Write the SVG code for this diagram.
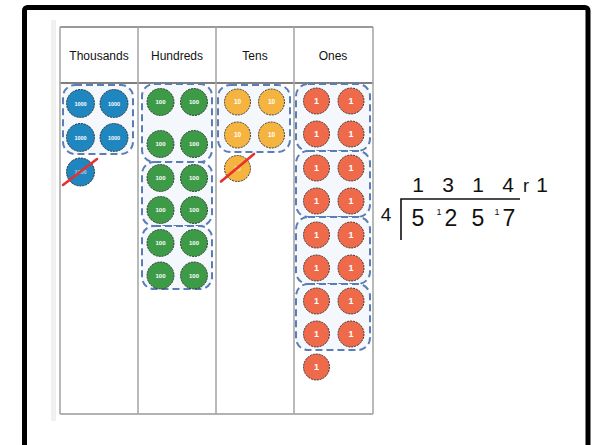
<svg xmlns="http://www.w3.org/2000/svg" width="592" height="445" viewBox="0 0 592 445">
<style>
.hdr{font-family:"Liberation Sans","Open Sans",sans-serif;font-size:12px;fill:#111;text-anchor:middle}
.grp{fill:#f4f8fc;stroke:#5a7db5;stroke-width:2;stroke-dasharray:7 4}
.coin{stroke:#2a2a2a;stroke-width:0.9;stroke-dasharray:2 1}
.th{fill:#1f86bf}.hu{fill:#3d9a47}.te{fill:#f5b43f}.on{fill:#ee6a4b}
.ct{font-family:"Liberation Sans",sans-serif;font-weight:bold;fill:#fff;text-anchor:middle}
.cross{stroke:#e8302f;stroke-width:2.6;stroke-linecap:round}
.div{font-family:"Liberation Sans","DejaVu Sans",sans-serif;fill:#111;text-anchor:middle}
.col{stroke:#a8a8a8;stroke-width:1.6}
</style>
<rect x="0" y="0" width="592" height="445" fill="#fff"/>
<rect x="24.5" y="7.5" width="563.5" height="460" fill="none" stroke="#000" stroke-width="5" rx="3"/>
<rect x="51" y="20" width="5" height="401" fill="#f0f0f0"/>
<!-- table -->
<g id="table" fill="none">
<line x1="60" y1="27" x2="373" y2="27" stroke="#777" stroke-width="1.4"/>
<line x1="60" y1="83" x2="373" y2="83" stroke="#555" stroke-width="1.6"/>
<line x1="60" y1="414" x2="373" y2="414" stroke="#999" stroke-width="1.6"/>
<line class="col" x1="60" y1="27" x2="60" y2="414"/>
<line class="col" x1="138" y1="27" x2="138" y2="414"/>
<line class="col" x1="216" y1="27" x2="216" y2="414"/>
<line class="col" x1="294" y1="27" x2="294" y2="414"/>
<line class="col" x1="373" y1="27" x2="373" y2="414"/>
</g>
<g id="headers">
<text class="hdr" x="99" y="60">Thousands</text>
<text class="hdr" x="177" y="60">Hundreds</text>
<text class="hdr" x="255" y="60">Tens</text>
<text class="hdr" x="333" y="60">Ones</text>
</g>
<!-- Thousands -->
<g id="thousands">
<rect class="grp" x="63" y="85" width="70" height="69" rx="12"/>
<g class="th coin"><circle cx="80.5" cy="103.5" r="14"/><circle cx="114" cy="103.5" r="14"/><circle cx="80.5" cy="137.5" r="14"/><circle cx="114" cy="137.5" r="14"/><circle cx="80.5" cy="172" r="14"/></g>
<g class="ct" font-size="5.5"><text x="80.5" y="105.5">1000</text><text x="114" y="105.5">1000</text><text x="80.5" y="139.5">1000</text><text x="114" y="139.5">1000</text><text x="80.5" y="174" opacity="0.6">1000</text></g>
<line class="cross" x1="63" y1="185" x2="97" y2="159"/>
</g>
<!-- Hundreds -->
<g id="hundreds">
<rect class="grp" x="142" y="84" width="70" height="78" rx="12"/>
<rect class="grp" x="142" y="162" width="70" height="64" rx="12"/>
<rect class="grp" x="142" y="226" width="70" height="63" rx="12"/>
<g class="hu coin">
<circle cx="160.5" cy="102" r="13.5"/><circle cx="194" cy="102" r="13.5"/>
<circle cx="160.5" cy="144" r="13.5"/><circle cx="194" cy="144" r="13.5"/>
<circle cx="160.5" cy="178" r="13.5"/><circle cx="194" cy="178" r="13.5"/>
<circle cx="160.5" cy="210" r="13.5"/><circle cx="194" cy="210" r="13.5"/>
<circle cx="160.5" cy="243" r="13.5"/><circle cx="194" cy="243" r="13.5"/>
<circle cx="160.5" cy="275.5" r="13.5"/><circle cx="194" cy="275.5" r="13.5"/>
</g>
<g class="ct" font-size="6">
<text x="160.5" y="104">100</text><text x="194" y="104">100</text>
<text x="160.5" y="146">100</text><text x="194" y="146">100</text>
<text x="160.5" y="180">100</text><text x="194" y="180">100</text>
<text x="160.5" y="212">100</text><text x="194" y="212">100</text>
<text x="160.5" y="245">100</text><text x="194" y="245">100</text>
<text x="160.5" y="277.5">100</text><text x="194" y="277.5">100</text>
</g>
</g>
<!-- Tens -->
<g id="tens">
<rect class="grp" x="218" y="85" width="72" height="67" rx="12"/>
<g class="te coin"><circle cx="237.5" cy="102" r="13"/><circle cx="271.5" cy="102" r="13"/><circle cx="237.5" cy="135" r="13"/><circle cx="271.5" cy="135" r="13"/><circle cx="237.5" cy="168.5" r="13"/></g>
<g class="ct" font-size="6.5"><text x="237.5" y="104.3">10</text><text x="271.5" y="104.3">10</text><text x="237.5" y="137.3">10</text><text x="271.5" y="137.3">10</text><text x="237.5" y="170.8" opacity="0.6">10</text></g>
<line class="cross" x1="221" y1="181.5" x2="254" y2="154"/>
</g>
<!-- Ones -->
<g id="ones">
<rect class="grp" x="296" y="84" width="74" height="67" rx="12"/>
<rect class="grp" x="296" y="151" width="74" height="66" rx="12"/>
<rect class="grp" x="296" y="217" width="74" height="67" rx="12"/>
<rect class="grp" x="296" y="284" width="74" height="66" rx="12"/>
<g class="on coin">
<circle cx="316.5" cy="101" r="13"/><circle cx="351" cy="101" r="13"/>
<circle cx="316.5" cy="134" r="13"/><circle cx="351" cy="134" r="13"/>
<circle cx="316.5" cy="168" r="13"/><circle cx="351" cy="168" r="13"/>
<circle cx="316.5" cy="201" r="13"/><circle cx="351" cy="201" r="13"/>
<circle cx="316.5" cy="235" r="13"/><circle cx="351" cy="235" r="13"/>
<circle cx="316.5" cy="268" r="13"/><circle cx="351" cy="268" r="13"/>
<circle cx="316.5" cy="301" r="13"/><circle cx="351" cy="301" r="13"/>
<circle cx="316.5" cy="334" r="13"/><circle cx="351" cy="334" r="13"/>
<circle cx="316.5" cy="367" r="13"/>
</g>
<g class="ct" font-size="9">
<text x="316.5" y="104.3">1</text><text x="351" y="104.3">1</text>
<text x="316.5" y="137.3">1</text><text x="351" y="137.3">1</text>
<text x="316.5" y="171.3">1</text><text x="351" y="171.3">1</text>
<text x="316.5" y="204.3">1</text><text x="351" y="204.3">1</text>
<text x="316.5" y="238.3">1</text><text x="351" y="238.3">1</text>
<text x="316.5" y="271.3">1</text><text x="351" y="271.3">1</text>
<text x="316.5" y="304.3">1</text><text x="351" y="304.3">1</text>
<text x="316.5" y="337.3">1</text><text x="351" y="337.3">1</text>
<text x="316.5" y="370.3">1</text>
</g>
</g>
<!-- Division -->
<g id="division">
<g class="div" font-size="21">
<text x="418" y="192">1</text><text x="448" y="192">3</text><text x="478" y="192">1</text><text x="508" y="192">4</text>
<text x="526" y="192" font-size="18">r</text><text x="542" y="192">1</text>
</g>
<path d="M401 240 V199 H520" fill="none" stroke="#111" stroke-width="1.6"/>
<text class="div" x="386" y="221" font-size="19">4</text>
<g class="div" font-size="23">
<text x="418" y="226">5</text><text x="451" y="226">2</text><text x="478" y="226">5</text><text x="509" y="226">7</text>
</g>
<g class="div" font-size="9"><text x="439" y="214.5">1</text><text x="497" y="214.5">1</text></g>
</g>
</svg>
